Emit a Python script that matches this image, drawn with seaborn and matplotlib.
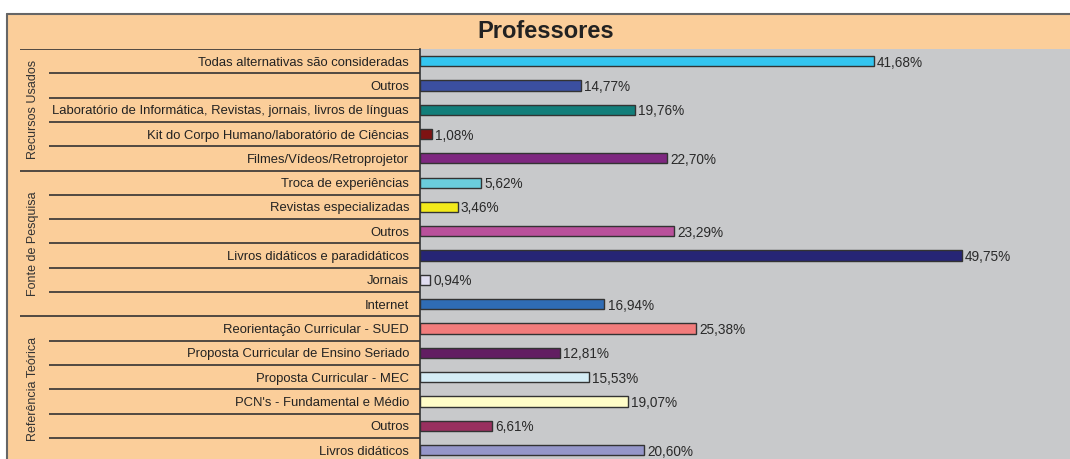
import pandas as pd
import seaborn as sns
import matplotlib.pyplot as plt
from matplotlib.lines import Line2D
from matplotlib.patches import Rectangle

# dados (de cima para baixo)
categorias = [
    "Todas alternativas são consideradas",
    "Outros",
    "Laboratório de Informática, Revistas, jornais, livros de línguas",
    "Kit do Corpo Humano/laboratório de Ciências",
    "Filmes/Vídeos/Retroprojetor",
    "Troca de experiências",
    "Revistas especializadas",
    "Outros",
    "Livros didáticos e paradidáticos",
    "Jornais",
    "Internet",
    "Reorientação Curricular - SUED",
    "Proposta Curricular de Ensino Seriado",
    "Proposta Curricular - MEC",
    "PCN's - Fundamental e Médio",
    "Outros",
    "Livros didáticos",
]
valores = [41.68, 14.77, 19.76, 1.08, 22.70,
           5.62, 3.46, 23.29, 49.75, 0.94, 16.94,
           25.38, 12.81, 15.53, 19.07, 6.61, 20.60]
cores = ["#33C5F0", "#3B4FA0", "#127E7A", "#7F1313", "#7E2780",
         "#6ACDDC", "#F3EA1A", "#B9509B", "#262575", "#E0DDF0", "#2F6CB5",
         "#F27C7C", "#621E62", "#D5EDF6", "#FFFDC8", "#99305F", "#9596C9"]
grupos = ["Recursos Usados", "Fonte de Pesquisa", "Referência Teórica"]
tamanhos_grupo = [5, 6, 6]
titulo = "Professores"

laranja = "#FBCE9A"
cinza = "#C8C9CB"
escuro = "#333333"

W, H = 1070, 459
def fx(px):
    return px / W
def fy(py):
    return 1 - py / H

sns.set_style("white")
plt.rcParams["font.family"] = ["Liberation Sans", "DejaVu Sans"]

fig = plt.figure(figsize=(W / 100, H / 100), dpi=100)

# faixa laranja (título + coluna de rótulos)
fig.patches.append(Rectangle((fx(7), 0), 1 - fx(7), fy(14), transform=fig.transFigure,
                             facecolor=laranja, edgecolor="none", zorder=-10))
fig.add_artist(Line2D([fx(7), 1], [fy(14), fy(14)], color="#666666", lw=1.5))
fig.add_artist(Line2D([fx(7), fx(7)], [0, fy(14)], color="#666666", lw=1.5))
fig.text(fx(546), fy(31), titulo, ha="center", va="center", fontsize=17,
         fontweight="bold", color="#222222")

ax = fig.add_axes([fx(420), 0, 1 - fx(420), fy(49)])
ax_lab = fig.add_axes([fx(7), 0, fx(420) - fx(7), fy(49)])

df = pd.DataFrame({"linha": [str(i) for i in range(len(valores))], "valor": valores})
sns.barplot(data=df, x="valor", y="linha", hue="linha", palette=cores, legend=False,
            orient="h", width=0.42, edgecolor=escuro, linewidth=1, saturation=1, ax=ax)

ylim = (16.37, -0.5)
ax.set_xlim(0, 650 / 10.89)
ax.set_ylim(*ylim)
ax.set_facecolor(cinza)
ax.set_xticks([])
ax.set_yticks([])
ax.set_xlabel("")
ax.set_ylabel("")
for s in ["top", "right", "bottom"]:
    ax.spines[s].set_visible(False)
ax.spines["left"].set_color(escuro)
ax.spines["left"].set_linewidth(1.2)

for i, v in enumerate(valores):
    ax.text(v + 0.3, i, f"{v:.2f}%".replace(".", ","), ha="left", va="center_baseline",
            fontsize=9.8, color="#2a2a2a")

# coluna de rótulos
ax_lab.set_xlim(7, 420)
ax_lab.set_ylim(*ylim)
ax_lab.axis("off")
ax_lab.patch.set_alpha(0)

for i, c in enumerate(categorias):
    ax_lab.text(409, i, c, ha="right", va="center_baseline", fontsize=9.4, color="#222222")

inicio = 0
fronteiras_grupo = [-0.5]
for g, t in zip(grupos, tamanhos_grupo):
    centro = inicio + (t - 1) / 2
    ax_lab.text(33, centro, g, rotation=90, ha="center", va="center",
                fontsize=9, color="#333333")
    for k in range(inicio, inicio + t - 1):
        ax_lab.plot([49, 420], [k + 0.5, k + 0.5], color=escuro, lw=1.2,
                    solid_capstyle="butt")
    inicio += t
    fronteiras_grupo.append(inicio - 0.5)

for y in fronteiras_grupo:
    ax_lab.plot([20, 420], [y, y], color=escuro, lw=1.2, solid_capstyle="butt")

fig.savefig("out.png", dpi=100)
plt.close(fig)
